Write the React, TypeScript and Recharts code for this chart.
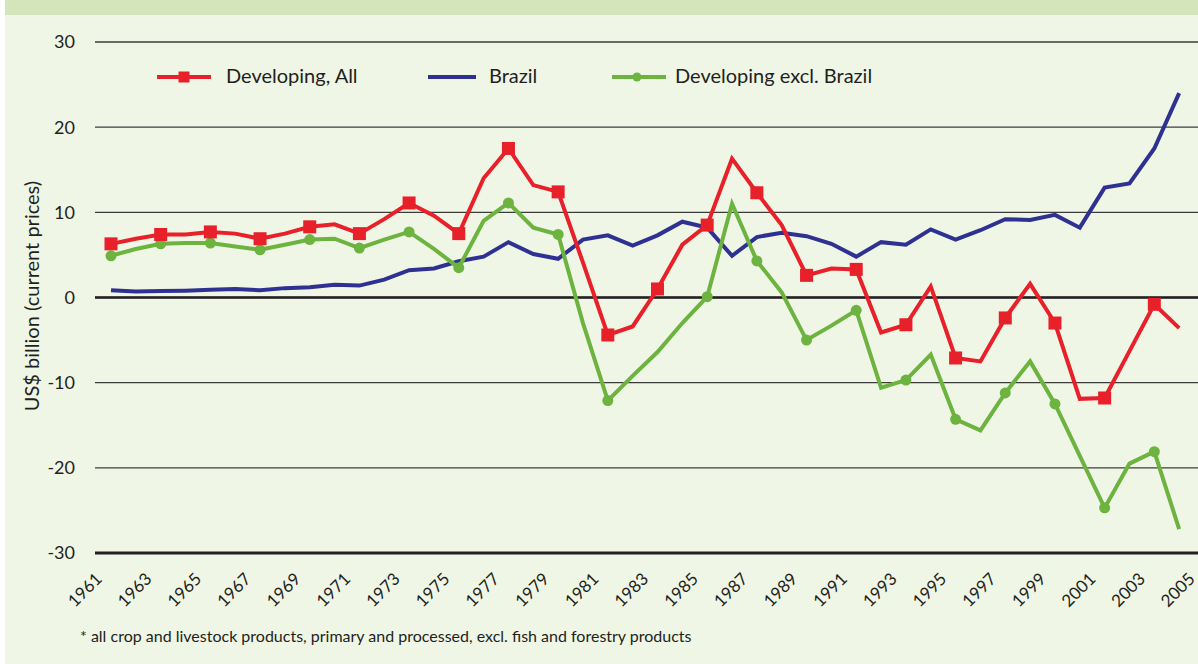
import { LineChart, Line, XAxis, YAxis, CartesianGrid, ReferenceLine } from "recharts";

const years = [
  1961, 1962, 1963, 1964, 1965, 1966, 1967, 1968, 1969, 1970,
  1971, 1972, 1973, 1974, 1975, 1976, 1977, 1978, 1979, 1980,
  1981, 1982, 1983, 1984, 1985, 1986, 1987, 1988, 1989, 1990,
  1991, 1992, 1993, 1994, 1995, 1996, 1997, 1998, 1999, 2000,
  2001, 2002, 2003, 2004,
];

const developingAll = [
  6.3, 6.9, 7.4, 7.4, 7.7, 7.5, 6.9, 7.5, 8.3, 8.6,
  7.5, 9.2, 11.1, 9.6, 7.5, 14.0, 17.5, 13.2, 12.4, 4.1,
  -4.4, -3.4, 1.0, 6.2, 8.5, 16.3, 12.3, 8.5, 2.6, 3.4,
  3.3, -4.1, -3.2, 1.3, -7.1, -7.5, -2.4, 1.6, -3.0, -11.9,
  -11.8, -6.3, -0.8, -3.6,
];

const brazil = [
  0.85, 0.7, 0.75, 0.8, 0.9, 1.0, 0.85, 1.1, 1.2, 1.5,
  1.4, 2.1, 3.2, 3.4, 4.25, 4.8, 6.5, 5.1, 4.55, 6.8,
  7.3, 6.1, 7.3, 8.9, 8.2, 4.9, 7.1, 7.6, 7.2, 6.3,
  4.8, 6.5, 6.2, 8.0, 6.8, 7.9, 9.2, 9.1, 9.7, 8.2,
  12.9, 13.4, 17.5, 24.0,
];

const exclBrazil = [
  4.9, 5.7, 6.3, 6.4, 6.4, 6.0, 5.6, 6.2, 6.8, 6.9,
  5.8, 6.8, 7.7, 5.7, 3.5, 9.0, 11.1, 8.2, 7.4, -3.0,
  -12.1, -9.2, -6.4, -3.0, 0.1, 11.0, 4.3, 0.6, -5.0, -3.3,
  -1.5, -10.6, -9.7, -6.7, -14.3, -15.6, -11.2, -7.5, -12.5, -18.6,
  -24.7, -19.5, -18.1, -27.2,
];

const xTicks = [
  1961, 1963, 1965, 1967, 1969, 1971, 1973, 1975, 1977, 1979, 1981, 1983,
  1985, 1987, 1989, 1991, 1993, 1995, 1997, 1999, 2001, 2003, 2005,
];
const yTicks = [-30, -20, -10, 0, 10, 20, 30];

const RED = "#e8202a";
const BLUE = "#2e3192";
const GREEN = "#6db33f";
const TEXT = "#231f20";
const FONT = "Lato, 'Open Sans', sans-serif";

const data = years.map((year, i) => ({
  year,
  all: developingAll[i],
  brazil: brazil[i],
  excl: exclBrazil[i],
}));

const YearTick = (props: any) => {
  const { x, y, payload } = props;
  const ax = x - 8;
  const ay = y + 19;
  return (
    <text
      x={ax}
      y={ay}
      textAnchor="end"
      fontSize={17}
      fill={TEXT}
      fontFamily={FONT}
      transform={`rotate(-45 ${ax} ${ay})`}
    >
      {payload.value}
    </text>
  );
};

const redDot = (props: any) => {
  const { cx, cy, payload } = props;
  if (payload.year % 2 === 0) return <g key={`r${payload.year}`} />;
  return <rect key={`r${payload.year}`} x={cx - 6.5} y={cy - 6.5} width={13} height={13} fill={RED} />;
};

const greenDot = (props: any) => {
  const { cx, cy, payload } = props;
  if (payload.year % 2 === 0 || payload.year === 1983) return <g key={`g${payload.year}`} />;
  return <circle key={`g${payload.year}`} cx={cx} cy={cy} r={5.5} fill={GREEN} />;
};

// legend drawn by hand, placed over the plot like the original
const ChartLegend = () => (
  <div
    style={{
      position: "absolute",
      left: 150,
      top: 63,
      width: 900,
      height: 30,
      fontFamily: FONT,
      fontSize: 20,
      color: TEXT,
    }}
  >
    <svg style={{ position: "absolute", left: 7, top: 7 }} width={54} height={14}>
      <line x1={0} y1={7} x2={54} y2={7} stroke={RED} strokeWidth={4} />
      <rect x={21.5} y={1.5} width={11} height={11} fill={RED} />
    </svg>
    <span style={{ position: "absolute", left: 76, top: 0 }}>Developing, All</span>
    <svg style={{ position: "absolute", left: 278, top: 7 }} width={48} height={14}>
      <line x1={0} y1={7} x2={48} y2={7} stroke={BLUE} strokeWidth={4} />
    </svg>
    <span style={{ position: "absolute", left: 339, top: 0 }}>Brazil</span>
    <svg style={{ position: "absolute", left: 462, top: 7 }} width={54} height={14}>
      <line x1={0} y1={7} x2={54} y2={7} stroke={GREEN} strokeWidth={4} />
      <circle cx={25} cy={7} r={4.5} fill={GREEN} />
    </svg>
    <span style={{ position: "absolute", left: 525, top: 0 }}>Developing excl. Brazil</span>
  </div>
);

export default function App() {
  return (
    <div
      style={{
        position: "absolute",
        left: 0,
        top: 0,
        width: 1198,
        height: 664,
        overflow: "hidden",
        background: "#eff6e6",
        fontFamily: FONT,
      }}
    >
      <div style={{ position: "absolute", left: 0, top: 0, width: 5, height: 664, background: "#ffffff" }} />
      <div style={{ position: "absolute", left: 5, top: 0, width: 1193, height: 15, background: "#d4e4bb" }} />
      <div
        style={{
          position: "absolute",
          left: 31,
          top: 296,
          transform: "translate(-50%, -50%) rotate(-90deg)",
          whiteSpace: "nowrap",
          fontSize: 20,
          color: TEXT,
        }}
      >
        US$ billion (current prices)
      </div>
      <div style={{ position: "absolute", left: 0, top: 0 }}>
        <LineChart width={1230} height={664} data={data} margin={{ top: 42, right: 0, bottom: 51, left: 35 }}>
          <CartesianGrid horizontal vertical={false} stroke="#3c3c3c" strokeWidth={1.3} />
          <XAxis
            type="number"
            dataKey="year"
            domain={[1961, 2005]}
            ticks={xTicks}
            interval={0}
            padding={{ left: 16, right: 26 }}
            height={60}
            axisLine={false}
            tickLine={false}
            tick={<YearTick />}
          />
          <YAxis
            type="number"
            domain={[-30, 30]}
            ticks={yTicks}
            width={60}
            axisLine={false}
            tickLine={false}
            tickMargin={14}
            tick={{ fontSize: 18, fill: TEXT, fontFamily: FONT }}
          />
          <ReferenceLine y={0} stroke={TEXT} strokeWidth={2.5} />
          <ReferenceLine y={-30} stroke={TEXT} strokeWidth={3} />
          <Line
            dataKey="brazil"
            name="Brazil"
            stroke={BLUE}
            strokeWidth={4}
            dot={false}
            isAnimationActive={false}
          />
          <Line
            dataKey="excl"
            name="Developing excl. Brazil"
            stroke={GREEN}
            strokeWidth={4}
            dot={greenDot}
            isAnimationActive={false}
          />
          <Line
            dataKey="all"
            name="Developing, All"
            stroke={RED}
            strokeWidth={4}
            dot={redDot}
            isAnimationActive={false}
          />
        </LineChart>
      </div>
      <ChartLegend />
      <div style={{ position: "absolute", left: 80, top: 626, fontSize: 16, color: TEXT }}>
        * all crop and livestock products, primary and processed, excl. fish and forestry products
      </div>
    </div>
  );
}
